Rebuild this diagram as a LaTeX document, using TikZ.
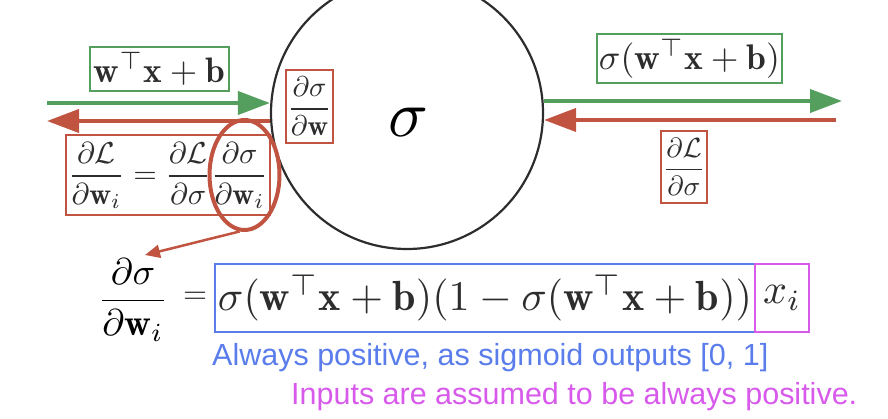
\documentclass[tikz,border=0pt]{standalone}
\usepackage{amsmath,amssymb}
\usepackage{graphicx}
\usepackage{fontspec}
\newfontfamily\labelfont{Liberation Sans}
\usetikzlibrary{arrows.meta,shapes.geometric}
\definecolor{fgreen}{RGB}{84,158,94}
\definecolor{fred}{RGB}{192,84,64}
\definecolor{fblue}{RGB}{90,125,235}
\definecolor{fmag}{RGB}{215,90,235}
\definecolor{fgray}{RGB}{45,45,45}
\tikzset{
  fbox/.style={draw=#1, line width=2pt, inner sep=0pt, text=fgray},
  fwdarrow/.style={draw=fgreen, line width=4pt, -{Triangle[length=32pt,width=23pt]}},
  bwdarrow/.style={draw=fred, line width=4pt, -{Triangle[length=32pt,width=23pt]}},
  note/.style={inner sep=0pt, anchor=base west},
}
\newcommand{\fitw}[2]{\resizebox{#1pt}{!}{#2}}
\begin{document}
\begin{tikzpicture}[x=1pt,y=-1pt]
\useasboundingbox (0,0) rectangle (888,419);
\clip (0,0) rectangle (888,419);
% neuron
\node[circle, draw=fgray, line width=2.2pt, minimum size=272pt, inner sep=0pt] (neuron) at (407,113) {};
\node[inner sep=0pt] (sig) at (409,122) {\fitw{40}{$\sigma$}};
% connection points
\coordinate (inL) at (47,103);
\coordinate (inLb) at (47,121);
\coordinate (outR) at (842,101);
\coordinate (outRb) at (836,120);
\draw[fwdarrow] (inL) -- (inL -| neuron.west);
\draw[bwdarrow] (neuron.west |- inLb) -- (inLb);
\draw[fwdarrow] (neuron.east |- outR) -- (outR);
\draw[bwdarrow] (outRb) -- (outRb -| neuron.east);
% labels
\node[fbox=fgreen, minimum width=139pt, minimum height=44pt] (g1) at (159.5,69) {\fitw{131}{$\mathbf{w}^{\top}\mathbf{x}+\mathbf{b}$}};
\node[fbox=fgreen, minimum width=185pt, minimum height=49pt] (g2) at (689.5,58.5) {\fitw{181}{$\sigma(\mathbf{w}^{\top}\mathbf{x}+\mathbf{b})$}};
\node[fbox=fred, minimum width=47pt, minimum height=73pt] (r1) at (309.5,106.5) {\fitw{44}{$\dfrac{\partial\sigma}{\partial\mathbf{w}}$}};
\node[fbox=fred, minimum width=46pt, minimum height=72pt] (r2) at (684,167) {\fitw{42}{$\dfrac{\partial\mathcal{L}}{\partial\sigma}$}};
\node[fbox=fred, minimum width=204pt, minimum height=80pt] (r3) at (168,175.5) {\fitw{200}{$\dfrac{\partial\mathcal{L}}{\partial\mathbf{w}_i}=\dfrac{\partial\mathcal{L}}{\partial\sigma}\dfrac{\partial\sigma}{\partial\mathbf{w}_i}$}};
\node[ellipse, draw=fred, line width=4pt, minimum width=70pt, minimum height=110pt, inner sep=0pt] (ell) at (244.5,175) {};
% bottom equation
\node[inner sep=0pt] (lhs) at (133,300) {\fitw{70}{$\dfrac{\partial\sigma}{\partial\mathbf{w}_i}$}};
\node[inner sep=0pt, text=fgray] (eq) at (195,298) {\fitw{24}{$=$}};
\node[fbox=fblue, minimum width=540pt, minimum height=68pt] (bl) at (485,298) {\fitw{534}{$\sigma(\mathbf{w}^{\top}\mathbf{x}+\mathbf{b})(1-\sigma(\mathbf{w}^{\top}\mathbf{x}+\mathbf{b}))$}};
\node[fbox=fmag, minimum width=54pt, minimum height=68pt] (mg) at (782,298) {\fitw{38}{$x_i$}};
\coordinate (tip) at (145,255);
\draw[fred, line width=2.5pt, -{Triangle[length=15pt,width=13pt]}] (ell.-95) -- (tip);
% notes
\node[note, text=fblue] (n1) at (212,365) {\fitw{556}{\labelfont Always positive, as sigmoid outputs [0, 1]}};
\node[note, text=fmag] (n2) at (291,404) {\fitw{566}{\labelfont Inputs are assumed to be always positive.}};
\end{tikzpicture}
\end{document}
